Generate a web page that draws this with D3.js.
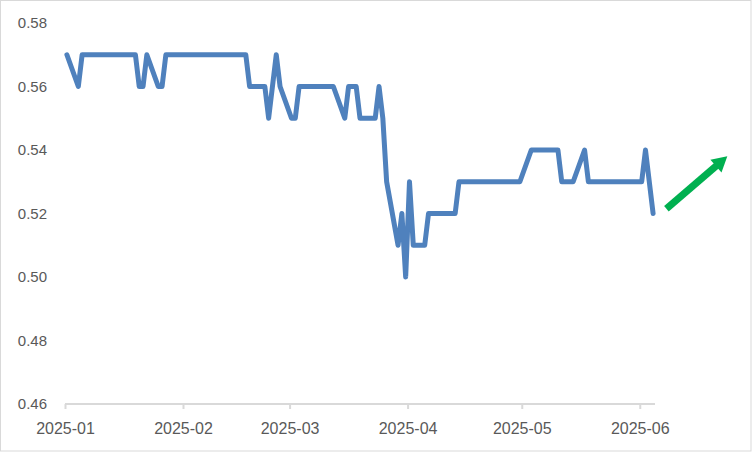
<!DOCTYPE html>
<html>
<head>
<meta charset="utf-8">
<script src="https://cdn.jsdelivr.net/npm/d3@7"></script>
<style>
  html, body { margin: 0; padding: 0; background: #fff; }
  svg { display: block; }
  text { font-family: "Liberation Sans", Arial, sans-serif; fill: #595959; }
</style>
</head>
<body>
<script>
// ---- data ----
const dates = ["2025-01-01","2025-01-04","2025-01-05","2025-01-19","2025-01-20","2025-01-21","2025-01-22","2025-01-25","2025-01-26","2025-01-27",
  "2025-02-17","2025-02-18","2025-02-22","2025-02-23","2025-02-25","2025-02-26","2025-03-01","2025-03-02","2025-03-03","2025-03-12",
  "2025-03-15","2025-03-16","2025-03-18","2025-03-19","2025-03-23","2025-03-24","2025-03-25","2025-03-26","2025-03-29","2025-03-30",
  "2025-03-31","2025-04-01","2025-04-02","2025-04-05","2025-04-06","2025-04-13","2025-04-14","2025-04-30","2025-05-03","2025-05-10",
  "2025-05-11","2025-05-14","2025-05-17","2025-05-18","2025-06-01","2025-06-02","2025-06-04"];
const values = [0.57,0.56,0.57,0.57,0.56,0.56,0.57,0.56,0.56,0.57,
  0.57,0.56,0.56,0.55,0.57,0.56,0.55,0.55,0.56,0.56,
  0.55,0.56,0.56,0.55,0.55,0.56,0.55,0.53,0.51,0.52,
  0.50,0.53,0.51,0.51,0.52,0.52,0.53,0.53,0.54,0.54,
  0.53,0.53,0.54,0.53,0.53,0.54,0.52];
const xTickLabels = ["2025-01","2025-02","2025-03","2025-04","2025-05","2025-06"];
const yTicks = [0.46,0.48,0.50,0.52,0.54,0.56,0.58];
const xDomain = ["2025-01-01","2025-06-05"];
const yDomain = [0.46, 0.58];
// trend arrow annotation (data space)
const arrowFrom = {date: "2025-06-08", value: 0.5215};
const arrowTo   = {date: "2025-06-24", value: 0.5380};

// ---- drawing ----
const W = 752, H = 452;
const parse = d3.utcParse("%Y-%m-%d");
const parseM = d3.utcParse("%Y-%m");

const svg = d3.select("body").append("svg").attr("width", W).attr("height", H);

svg.append("rect").attr("x", 0.5).attr("y", 0.5).attr("width", W - 1.5).attr("height", H - 1.5)
  .attr("fill", "#fff").attr("stroke", "#d9d9d9").attr("stroke-width", 1);

const x = d3.scaleUtc().domain(xDomain.map(parse)).range([65, 655]);
const y = d3.scaleLinear().domain(yDomain).range([404, 23]);
const halfDay = (x(parse("2025-01-02")) - x(parse("2025-01-01"))) / 2;

// x axis
const xAxis = d3.axisBottom(x)
  .tickValues(xTickLabels.map(parseM))
  .tickFormat(d3.utcFormat("%Y-%m"))
  .tickSizeOuter(0).tickSizeInner(5).tickPadding(14);
const gx = svg.append("g").attr("transform", "translate(0,404)").call(xAxis);
gx.select(".domain").attr("stroke", "#d9d9d9").attr("stroke-width", 2)
  .attr("d", `M${x.range()[0]},0H${x.range()[1]}`);
gx.selectAll(".tick line").attr("stroke", "#d9d9d9").attr("stroke-width", 2);
gx.selectAll(".tick text").attr("fill", "#595959").style("font-size", "16px")
  .style("font-family", '"Liberation Sans", Arial, sans-serif');

// y axis (labels only)
const yAxis = d3.axisLeft(y).tickValues(yTicks).tickFormat(d3.format(".2f"))
  .tickSize(0).tickPadding(18);
const gy = svg.append("g").attr("transform", "translate(65,0)").call(yAxis);
gy.select(".domain").remove();
gy.selectAll(".tick text").attr("fill", "#595959").style("font-size", "15px")
  .style("font-family", '"Liberation Sans", Arial, sans-serif');

// line
const pts = dates.map((d, i) => ({date: parse(d), value: values[i]}));
const line = d3.line().x(d => x(d.date) + halfDay).y(d => y(d.value));
svg.append("path").datum(pts).attr("d", line)
  .attr("fill", "none").attr("stroke", "#4f81bd").attr("stroke-width", 5)
  .attr("stroke-linejoin", "round").attr("stroke-linecap", "round");

// arrow: shaft + triangular head
const ax1 = x(parse(arrowFrom.date)), ay1 = y(arrowFrom.value);
const ax2 = x(parse(arrowTo.date)), ay2 = y(arrowTo.value);
const ang = Math.atan2(ay2 - ay1, ax2 - ax1);
const headL = 15, headW = 17;
const bx = ax2 - Math.cos(ang) * headL, by = ay2 - Math.sin(ang) * headL;
const nx = -Math.sin(ang), ny = Math.cos(ang);
svg.append("line")
  .attr("x1", ax1).attr("y1", ay1).attr("x2", bx + Math.cos(ang)).attr("y2", by + Math.sin(ang))
  .attr("stroke", "#00b050").attr("stroke-width", 7);
svg.append("path")
  .attr("d", `M${ax2},${ay2}L${bx + nx * headW / 2},${by + ny * headW / 2}L${bx - nx * headW / 2},${by - ny * headW / 2}Z`)
  .attr("fill", "#00b050");
</script>
</body>
</html>
